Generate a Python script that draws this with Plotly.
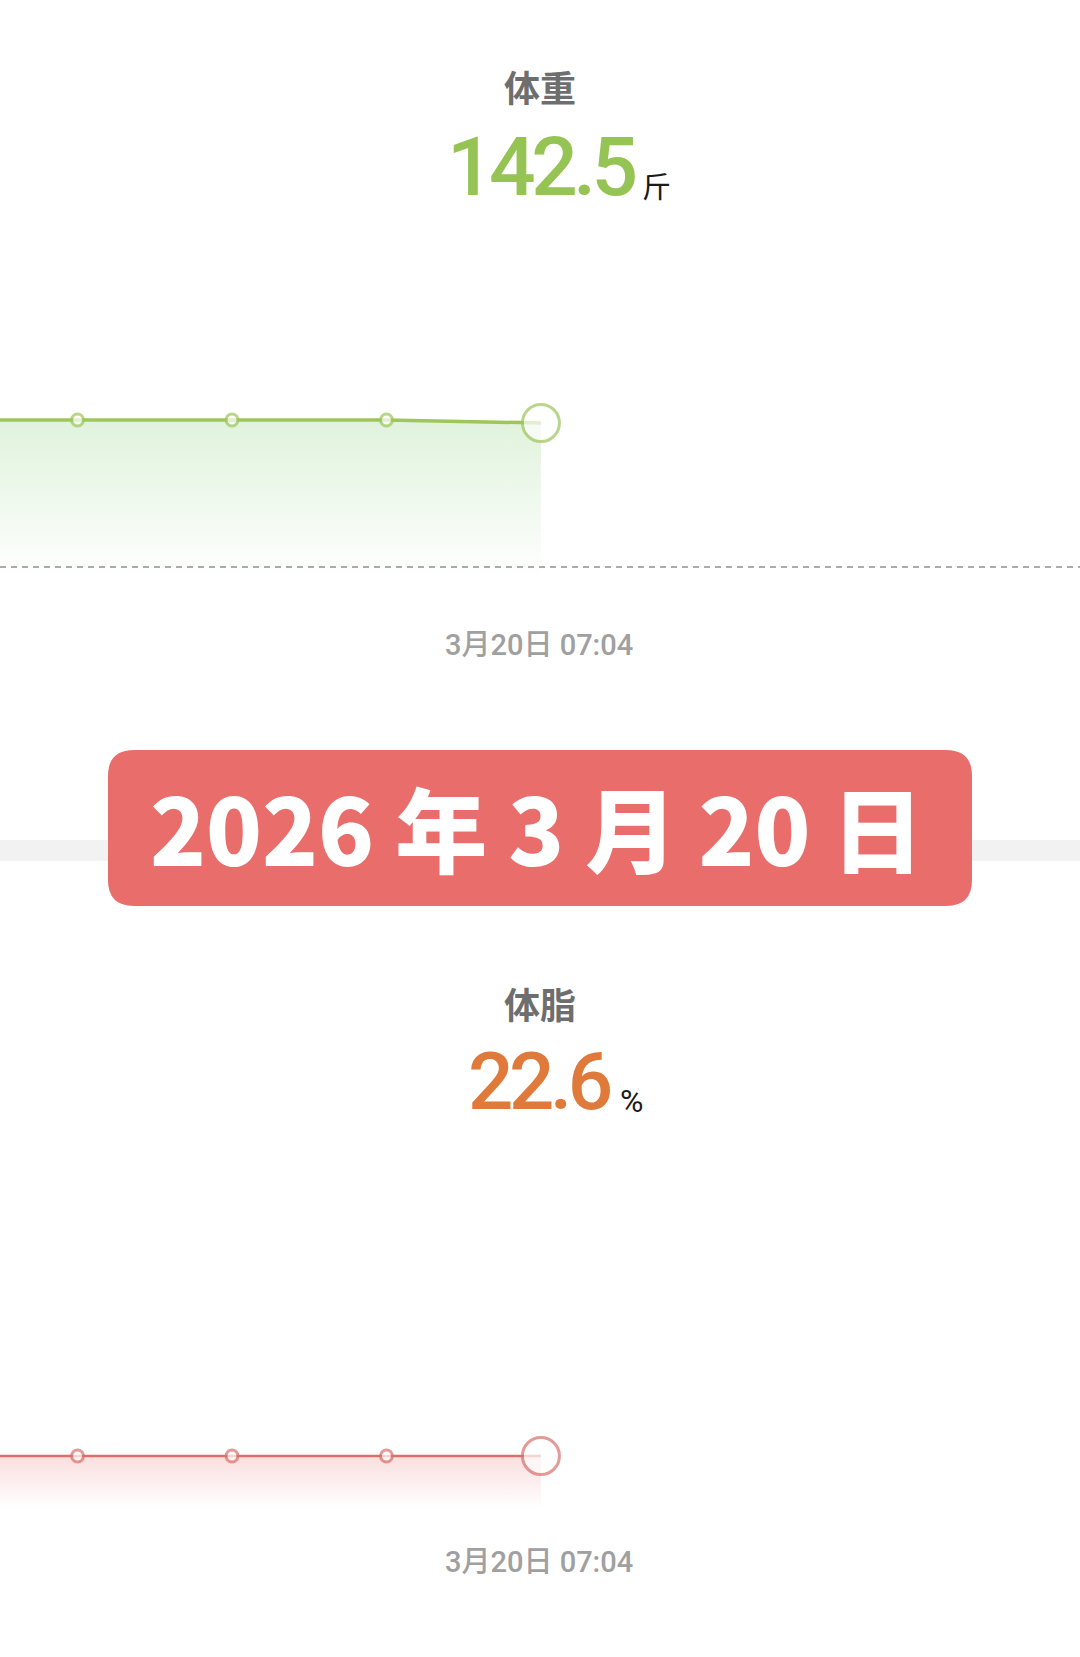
import plotly.graph_objects as go

# ---------------- data ----------------
dates = ["3月16日", "3月17日", "3月18日", "3月19日", "3月20日"]
weight = [142.6, 142.6, 142.6, 142.6, 142.5]
bodyfat = [22.6, 22.6, 22.6, 22.6, 22.6]
weight_title = "体重"
weight_unit = "斤"
fat_title = "体脂"
fat_unit = "%"
time_label = "3月20日 07:04"
banner_text = "2026 年 3 月 20 日"

W, H = 1080, 1657
GREEN_LINE = "#9EC65C"
GREEN_TEXT = "#95C455"
RED_LINE = "#D9706C"
ORANGE_TEXT = "#E07A3A"
BANNER = "#E96D6B"


def px(x):
    return x / W


def py(y):
    return 1 - y / H


fig = go.Figure()


def add_series(vals, color, lw, xa, ya, fade_to, fill_rgb, alpha):
    n = len(vals)
    sizes = [12] * (n - 1) + [37]
    fig.add_trace(go.Scatter(
        x=dates, y=vals, xaxis=xa, yaxis=ya, mode="lines+markers",
        line=dict(color=color, width=lw),
        marker=dict(size=sizes, color="white", line=dict(color=color, width=3)),
        fill="tozeroy",
        fillgradient=dict(type="vertical",
                          colorscale=[[0, f"rgba({fill_rgb},{alpha})"], [1, f"rgba({fill_rgb},0)"]],
                          start=vals[-1], stop=fade_to),
        hoverinfo="skip", showlegend=False, cliponaxis=False,
    ))


# weight chart: domain pixels 380..600, 30 px per unit, value 142.6 at pixel 420
w_top = weight[0] + (420 - 380) / 30
w_bot = weight[0] - (600 - 420) / 30
add_series(weight, GREEN_LINE, 3.5, "x", "y", weight[0] - (580 - 420) / 30, "170,222,160", 0.36)

# fat chart: domain pixels 1400..1530, 22.6 at pixel 1456
f_top = bodyfat[0] + (1456 - 1400) / 30
f_bot = bodyfat[0] - (1530 - 1456) / 30
add_series(bodyfat, RED_LINE, 2.5, "x2", "y2", bodyfat[0] - (1508 - 1456) / 30, "240,145,145", 0.30)

xr = [0.498, 7.49]
fig.update_layout(
    width=W, height=H, margin=dict(l=0, r=0, t=0, b=0),
    paper_bgcolor="white", plot_bgcolor="rgba(0,0,0,0)",
    xaxis=dict(type="category", range=xr, visible=False, domain=[0, 1]),
    yaxis=dict(range=[w_bot, w_top], visible=False, domain=[py(600), py(380)]),
    xaxis2=dict(type="category", range=xr, visible=False, domain=[0, 1], anchor="y2"),
    yaxis2=dict(range=[f_bot, f_top], visible=False, domain=[py(1530), py(1400)], anchor="x2"),
)

shapes = []
# dashed baseline under weight chart
shapes.append(dict(type="line", xref="paper", yref="paper", x0=0, x1=1, y0=py(567), y1=py(567),
                   line=dict(color="#ABABAB", width=2, dash="6px,5px"), layer="above"))
# light gray band behind banner
shapes.append(dict(type="rect", xref="paper", yref="paper", x0=0, x1=1, y0=py(861), y1=py(840),
                   fillcolor="#F2F2F2", line=dict(width=0), layer="below"))


def rounded_rect(x0, y0, x1, y1, r):
    pts = [
        f"M {px(x0 + r)},{py(y0)}",
        f"L {px(x1 - r)},{py(y0)}",
        f"Q {px(x1)},{py(y0)} {px(x1)},{py(y0 + r)}",
        f"L {px(x1)},{py(y1 - r)}",
        f"Q {px(x1)},{py(y1)} {px(x1 - r)},{py(y1)}",
        f"L {px(x0 + r)},{py(y1)}",
        f"Q {px(x0)},{py(y1)} {px(x0)},{py(y1 - r)}",
        f"L {px(x0)},{py(y0 + r)}",
        f"Q {px(x0)},{py(y0)} {px(x0 + r)},{py(y0)} Z",
    ]
    return " ".join(pts)


shapes.append(dict(type="path", xref="paper", yref="paper", path=rounded_rect(108, 750, 972, 906, 26),
                   fillcolor=BANNER, line=dict(width=0), layer="above"))
fig.update_layout(shapes=shapes)

CJK = "Noto Sans CJK SC"
NUM = "Roboto, Noto Sans"
ann = []


def text(x, y, s, size, color, family, weight="normal", xanchor="center"):
    ann.append(dict(x=px(x), y=py(y), xref="paper", yref="paper", text=s, showarrow=False,
                    xanchor=xanchor, yanchor="middle",
                    font=dict(size=size, color=color, family=family, weight=weight)))


def tight(s, spacing):
    return f'<span style="letter-spacing:{spacing}px">{s}</span>'


text(540, 86, weight_title, 36, "#6E6E6E", CJK, "bold")
text(541, 167, tight(f"{weight[-1]:.1f}", -4.5), 82, GREEN_TEXT, NUM, 500)
text(640, 185, weight_unit, 29, "#1A1A1A", CJK, xanchor="left")
text(539, 645, time_label, 29, "#A0A0A0", "Roboto, " + CJK, 500)

text(537, 825, banner_text, 92, "white", CJK, 900)

text(540, 1003, fat_title, 36, "#6E6E6E", CJK, "bold")
text(539, 1082, tight(f"{bodyfat[-1]:.1f}", -4.5), 80, ORANGE_TEXT, NUM, 500)
text(618, 1101, fat_unit, 32, "#1A1A1A", "Roboto", xanchor="left")
text(539, 1562, time_label, 29, "#A0A0A0", "Roboto, " + CJK, 500)

fig.update_layout(annotations=ann)
fig.write_html("out.html", config={"displayModeBar": False},
               post_script="document.body.style.margin='0px';document.body.style.padding='0px';")
